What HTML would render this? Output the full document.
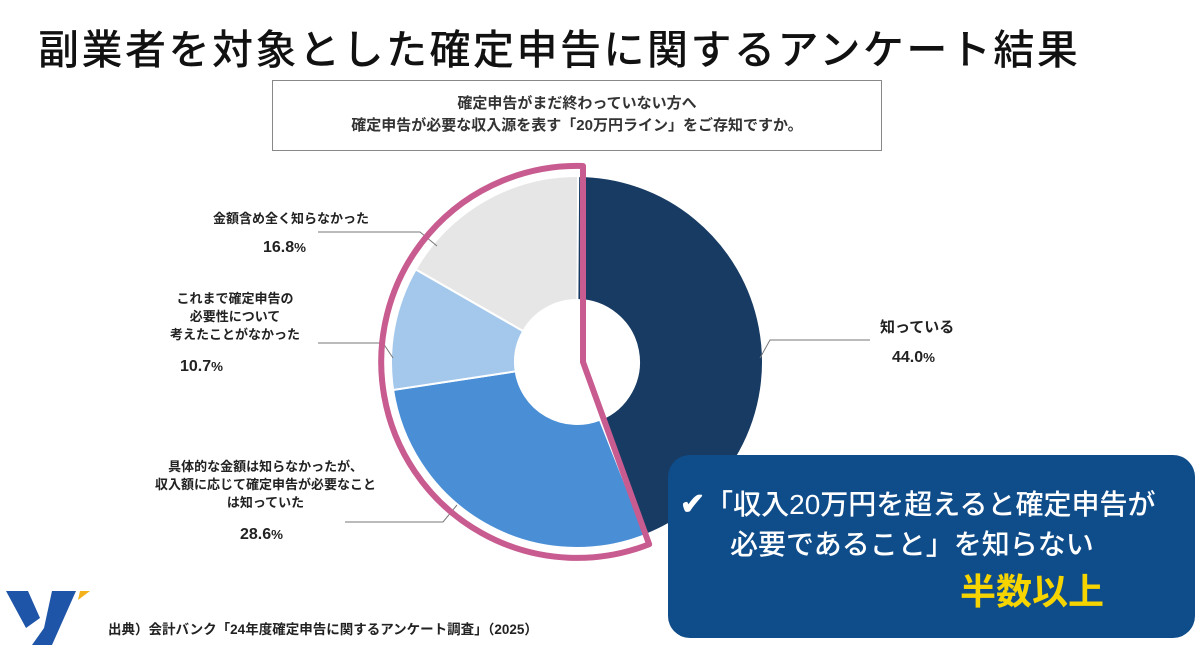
<!DOCTYPE html>
<html><head><meta charset="utf-8"><style>
body{margin:0;width:1200px;height:657px;background:#fff;overflow:hidden;position:relative;font-family:"Liberation Sans","Noto Sans CJK JP",sans-serif;color:#222}
.abs{position:absolute}
</style></head><body>
<div class="abs" style="left:38px;top:16px;font-size:41px;font-weight:500;color:#111;letter-spacing:2.5px">副業者を対象とした確定申告に関するアンケート結果</div>
<div class="abs" style="left:272px;top:80px;width:610px;height:71px;border:1.5px solid #888;box-sizing:border-box;text-align:center;font-size:15px;font-weight:bold;line-height:22px;padding-top:12px;color:#333">確定申告がまだ終わっていない方へ<br>確定申告が必要な収入源を表す「20万円ライン」をご存知ですか。</div>
<svg class="abs" style="left:0;top:0" width="1200" height="657">
<g id="slices"></g>
<g stroke="#777" fill="none" stroke-width="1">
<polyline points="318,232 420,232 437,246"/>
<polyline points="318,343 383,343 393,358"/>
<polyline points="345,522 443,522 457,505"/>
<polyline points="870,340 770,340 760,358"/>
</g>
<path id="hl" fill="none" stroke="#c85b8f" stroke-width="6" stroke-linejoin="round"/>
</svg>
<div class="abs" style="left:213px;top:208px;font-size:13px;font-weight:bold">金額含め全く知らなかった<div style="font-size:16px;margin:12px 0 0 50px">16.8<small>%</small></div></div>
<div class="abs" style="left:170px;top:290px;font-size:13px;font-weight:bold;line-height:18px;text-align:center">これまで確定申告の<br>必要性について<br>考えたことがなかった<div style="font-size:16px;margin-top:14px;text-align:left;padding-left:10px">10.7<small>%</small></div></div>
<div class="abs" style="left:155px;top:458px;font-size:13px;font-weight:bold;line-height:18px;text-align:center">具体的な金額は知らなかったが、<br>収入額に応じて確定申告が必要なこと<br>は知っていた<div style="font-size:16px;margin-top:14px;text-align:left;padding-left:85px">28.6<small>%</small></div></div>
<div class="abs" style="left:880px;top:316px;font-size:15px;font-weight:bold">知っている<div style="font-size:16px;margin-top:12px;padding-left:12px">44.0<small>%</small></div></div>
<div class="abs" style="left:668px;top:455px;width:527px;height:183px;background:#0f4c8a;border-radius:22px;color:#fff">
<div style="position:absolute;left:12px;top:30px;font-size:28px;line-height:40px;font-weight:500;white-space:nowrap"><b style="font-size:30px">✔</b>「収入20万円を超えると確定申告が<br><span style="padding-left:50px">必要であること」を知らない</span></div>
<div style="position:absolute;left:292px;top:108px;font-size:36px;font-weight:bold;color:#f5d400">半数以上</div></div>
<svg class="abs" style="left:4px;top:588px" width="90" height="60">
<polygon points="2,3 24,3 36,30 22,40" fill="#1f55a8"/><polygon points="48,3 72,3 48,57 28,57 40,40" fill="#1f55a8"/><polygon points="76,3 86,3 74,12" fill="#f3b21b"/></svg>
<div class="abs" style="left:108px;top:618px;font-size:13.5px;font-weight:bold;color:#222">出典）会計バンク「24年度確定申告に関するアンケート調査」（2025）</div>
<script>
const categories=["知っている","具体的な金額は知らなかったが知っていた","考えたことがなかった","全く知らなかった"];
const values=[44.0,28.6,10.7,16.8];
const colors=["#173b63","#4a8fd6","#a4c8ec","#e6e6e6"];
const cx=577,cy=362,R=186,r=62,ns="http://www.w3.org/2000/svg";
function pt(a,rad){const t=a/100*2*Math.PI;return [cx+rad*Math.sin(t),cy-rad*Math.cos(t)];}
const g=document.getElementById('slices');let acc=0;
values.forEach((v,i)=>{const a0=acc,a1=acc+v;acc=a1;
const p0=pt(a0,R),p1=pt(a1,R),q1=pt(a1,r),q0=pt(a0,r),lg=v>50?1:0;
const p=document.createElementNS(ns,'path');
p.setAttribute('d',`M${p0} A${R},${R} 0 ${lg} 1 ${p1} L${q1} A${r},${r} 0 ${lg} 0 ${q0}Z`);
p.setAttribute('fill',colors[i]);p.setAttribute('stroke','#fff');p.setAttribute('stroke-width','2');


g.appendChild(p);});
const hr=196,end=pt(values[0],hr);
document.getElementById('hl').setAttribute('d',`M${cx+6},${cy-hr} L${cx+6},${cy} L${end} A${hr},${hr} 0 1 1 ${cx+6},${cy-hr}Z`);
</script>
</body></html>
